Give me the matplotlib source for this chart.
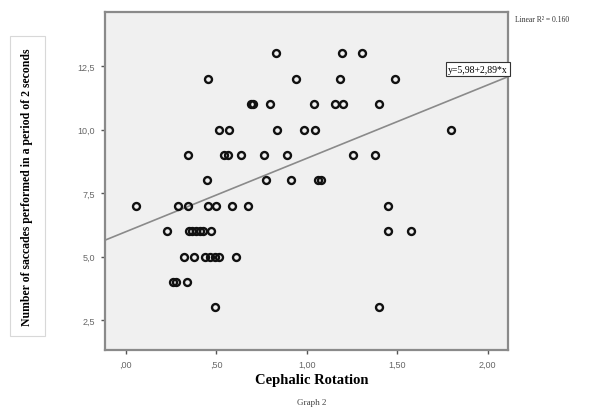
import matplotlib
matplotlib.use("Agg")
import matplotlib.pyplot as plt
from matplotlib.patches import Rectangle

# cephalic rotation (x) and saccades count (y)
rotation = [0.829, 1.197, 1.306,
            0.455, 0.939, 1.186, 1.488,
            0.689, 0.703, 0.796, 1.039, 1.157, 1.201, 1.398,
            0.516, 0.569, 0.838, 0.985, 1.048, 1.799,
            0.344, 0.545, 0.565, 0.636, 0.765, 0.888, 1.256, 1.379,
            0.446, 0.777, 0.915, 1.063, 1.078,
            0.055, 0.287, 0.346, 0.454, 0.496, 0.585, 0.677, 1.449,
            0.226, 0.350, 0.368, 0.387, 0.409, 0.427, 0.468, 1.449, 1.578,
            0.324, 0.374, 0.436, 0.464, 0.492, 0.517, 0.607,
            0.262, 0.277, 0.336,
            0.495, 1.398]
saccades = [13] * 3 + [12] * 4 + [11] * 7 + [10] * 6 + [9] * 8 + [8] * 5 \
    + [7] * 8 + [6] * 9 + [5] * 7 + [4] * 3 + [3] * 2

intercept = 5.98
slope = 2.89
r2_text = "Linear R\u00b2 = 0.160"
fit_text = "y=5,98+2,89*x"

x_ticks = [0.0, 0.5, 1.0, 1.5, 2.0]
x_ticklabels = [",00", ",50", "1,00", "1,50", "2,00"]
y_ticks = [2.5, 5.0, 7.5, 10.0, 12.5]
y_ticklabels = ["2,5", "5,0", "7,5", "10,0", "12,5"]

xmin, xmax = -0.116, 2.112
ymin, ymax = 1.32, 14.63

fig = plt.figure(figsize=(5.89, 4.14), dpi=100)
ax = fig.add_axes([0.178, 0.152, 0.6845, 0.8165])
ax.set_facecolor("#f0f0f0")

ax.plot([xmin, xmax], [intercept + slope * xmin, intercept + slope * xmax],
        color="#8a8a8a", lw=1.2, zorder=2)
ax.plot(rotation, saccades, "o", ms=5, mfc="none", mec="#111111", mew=1.7,
        zorder=3)

ax.text(xmax, intercept + slope * xmax + 0.12, fit_text, ha="right", va="bottom",
        fontsize=7, family="Liberation Serif",
        bbox=dict(boxstyle="square,pad=0.25", fc="white", ec="#333333", lw=0.8))

ax.set_xlim(xmin, xmax)
ax.set_ylim(ymin, ymax)
ax.set_xticks(x_ticks)
ax.set_xticklabels(x_ticklabels)
ax.set_yticks(y_ticks)
ax.set_yticklabels(y_ticklabels)
ax.tick_params(direction="out", length=3, width=1, color="#555555",
               labelsize=6.5, labelcolor="#666666", pad=4)
for lab in ax.get_xticklabels() + ax.get_yticklabels():
    lab.set_family("Liberation Sans")
for s in ax.spines.values():
    s.set_color("#8a8a8a")
    s.set_linewidth(1.6)

# y label in its own light box, left of the axes
fig.patches.append(Rectangle((10 / 589, 1 - 337 / 414), 35 / 589, 300 / 414,
                             transform=fig.transFigure, fill=False,
                             ec="#d8d8d8", lw=0.8))
fig.text(27 / 589, 1 - 187 / 414, "Number of saccades performed in a period of 2 seconds",
         rotation=90, ha="center", va="center", fontsize=8.5, fontweight="bold",
         family="Liberation Serif")

fig.text(312 / 589, 1 - 381 / 414, "Cephalic Rotation", ha="center", va="center",
         fontsize=10.5, fontweight="bold", family="Liberation Serif")
fig.text(312 / 589, 1 - 403 / 414, "Graph 2", ha="center", va="center",
         fontsize=6.5, color="#444444", family="Liberation Serif")
fig.text(515 / 589, 1 - 20 / 414, r2_text, ha="left", va="center",
         fontsize=5.5, color="#333333", family="Liberation Serif")

fig.savefig("out.png", dpi=100)
